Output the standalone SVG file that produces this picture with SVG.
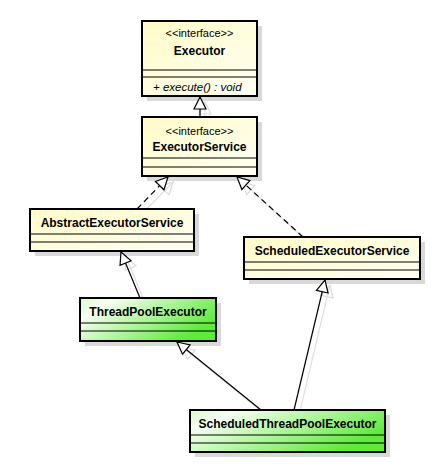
<svg xmlns="http://www.w3.org/2000/svg" width="446" height="466" viewBox="0 0 446 466">
<defs>
<linearGradient id="gy" x1="0" y1="0" x2="1" y2="1">
<stop offset="0" stop-color="#fffbc8"/>
<stop offset="1" stop-color="#fffff2"/>
</linearGradient>
<linearGradient id="gg" x1="0" y1="0" x2="1" y2="0.5">
<stop offset="0" stop-color="#d8fbc8"/>
<stop offset="0.2" stop-color="#f6fff2"/>
<stop offset="1" stop-color="#5fea3c"/>
</linearGradient>
<marker id="tri" viewBox="0 0 14 14" refX="13" refY="7" markerWidth="14" markerHeight="14" markerUnits="userSpaceOnUse" orient="auto">
<path d="M1,1 L13,7 L1,13 Z" fill="#fff" stroke="#000" stroke-width="1.2"/>
</marker>
<marker id="tris" viewBox="0 0 14 14" refX="13" refY="7" markerWidth="14" markerHeight="14" markerUnits="userSpaceOnUse" orient="auto">
<path d="M1,1 L13,7 L1,13 Z" fill="none" stroke="#dcdcdc" stroke-width="1.2"/>
</marker>
</defs>
<style>
.shadow{fill:#d9d9d9}
.box{stroke:#000;stroke-width:2}
.yel{fill:url(#gy)}
.grn{fill:url(#gg)}
.div{stroke:#000;stroke-width:1}
.name{font-family:"Liberation Sans",Arial,sans-serif;font-size:12px;font-weight:bold;text-anchor:middle;fill:#000}
.ster{font-family:"Liberation Sans",Arial,sans-serif;font-size:11px;text-anchor:middle;fill:#000}
.op{font-family:"Liberation Sans",Arial,sans-serif;font-size:11.5px;font-style:italic;fill:#000}
.edge{stroke:#000;stroke-width:1.2;fill:none;marker-end:url(#tri)}
.dash{stroke-dasharray:6,4}
.eshadow{stroke:#e0e0e0;stroke-width:1.2;fill:none;marker-end:url(#tris)}
</style>
<rect width="446" height="466" fill="#fff"/>
<g id="connector-shadows" transform="translate(5,5)">
<path class="eshadow" d="M200,117 L200,97"/>
<path class="eshadow" d="M137,209 L168,177"/>
<path class="eshadow" d="M303,237 L237,177"/>
<path class="eshadow" d="M140,298 L121,252"/>
<path class="eshadow" d="M261,410 L177,342"/>
<path class="eshadow" d="M294,410 L325,280"/>
</g>
<g id="Executor">
<rect class="shadow" x="147" y="26" width="115" height="75"/>
<rect class="box yel" x="142" y="21" width="115" height="75"/>
<line class="div" x1="142" y1="70" x2="257" y2="70"/>
<line class="div" x1="142" y1="77" x2="257" y2="77"/>
<text class="ster" x="199.5" y="37">&lt;&lt;interface&gt;&gt;</text>
<text class="name" x="199.5" y="55">Executor</text>
<text class="op" x="153" y="91">+ execute() : void</text>
</g>
<g id="ExecutorService">
<rect class="shadow" x="147" y="122" width="115" height="59"/>
<rect class="box yel" x="142" y="117" width="115" height="59"/>
<line class="div" x1="142" y1="158" x2="257" y2="158"/>
<line class="div" x1="142" y1="167" x2="257" y2="167"/>
<text class="ster" x="199.5" y="135">&lt;&lt;interface&gt;&gt;</text>
<text class="name" x="199.5" y="151">ExecutorService</text>
</g>
<g id="AbstractExecutorService">
<rect class="shadow" x="35" y="214" width="164" height="42"/>
<rect class="box yel" x="30" y="209" width="164" height="42"/>
<line class="div" x1="30" y1="234" x2="194" y2="234"/>
<line class="div" x1="30" y1="242" x2="194" y2="242"/>
<text class="name" x="112" y="227">AbstractExecutorService</text>
</g>
<g id="ScheduledExecutorService">
<rect class="shadow" x="249" y="242" width="176" height="42"/>
<rect class="box yel" x="244" y="237" width="176" height="42"/>
<line class="div" x1="244" y1="262" x2="420" y2="262"/>
<line class="div" x1="244" y1="270" x2="420" y2="270"/>
<text class="name" x="332" y="255">ScheduledExecutorService</text>
</g>
<g id="ThreadPoolExecutor">
<rect class="shadow" x="85" y="303" width="136" height="43"/>
<rect class="box grn" x="80" y="298" width="136" height="43"/>
<line class="div" x1="80" y1="323" x2="216" y2="323"/>
<line class="div" x1="80" y1="331" x2="216" y2="331"/>
<text class="name" x="148" y="316">ThreadPoolExecutor</text>
</g>
<g id="ScheduledThreadPoolExecutor">
<rect class="shadow" x="195" y="415" width="195" height="42"/>
<rect class="box grn" x="190" y="410" width="195" height="42"/>
<line class="div" x1="190" y1="435" x2="385" y2="435"/>
<line class="div" x1="190" y1="443" x2="385" y2="443"/>
<text class="name" x="287.5" y="428">ScheduledThreadPoolExecutor</text>
</g>
<g id="connectors">
<path class="edge" d="M200,117 L200,97"/>
<path class="edge dash" d="M137,209 L168,177"/>
<path class="edge dash" d="M303,237 L237,177"/>
<path class="edge" d="M140,298 L121,252"/>
<path class="edge" d="M261,410 L177,342"/>
<path class="edge" d="M294,410 L325,280"/>
</g>
</svg>
